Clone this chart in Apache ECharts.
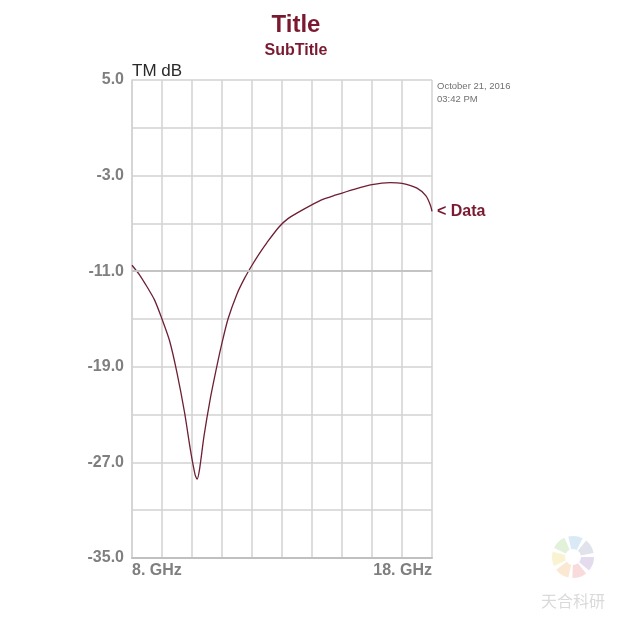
<!DOCTYPE html>
<html><head><meta charset="utf-8">
<script src="https://cdn.jsdelivr.net/npm/echarts@6/dist/echarts.min.js"></script>
<style>html,body{margin:0;padding:0;background:#fff}#c{width:618px;height:618px}</style>
</head><body><div id="c"></div>
<script>
const freqGHz = [8.0, 8.25, 8.5, 8.75, 9.0, 9.25, 9.5, 9.75, 9.95, 10.1, 10.17, 10.25, 10.4, 10.6, 10.85, 11.0, 11.2, 11.5, 11.75, 12.0, 12.25, 12.5, 12.9, 13.2, 13.7, 14.3, 14.8, 15.4, 16.0, 16.6, 17.0, 17.5, 17.8, 17.95, 18.0];
const tmDb = [-10.5, -11.3, -12.3, -13.4, -15.0, -16.8, -19.5, -22.8, -26.0, -28.0, -28.4, -27.6, -24.8, -21.8, -18.7, -17.0, -15.0, -12.9, -11.6, -10.5, -9.5, -8.6, -7.3, -6.6, -5.85, -5.05, -4.62, -4.15, -3.75, -3.58, -3.65, -4.05, -4.7, -5.5, -6.0];
const yLabelValues = [5, -3, -11, -19, -27, -35];
const xLabelText = {8: '8. GHz', 18: '18. GHz'};

const chart = echarts.init(document.getElementById('c'));
const font = '"Liberation Sans", Arial, Helvetica, sans-serif';
const wmColors = ['#c9b8e0','#f4b7b7','#f8d2a8','#f3e7a6','#c6e5b5','#b3d3ec','#c2c8d8'];
const wmSectors = wmColors.map((c, i) => ({
  type: 'sector', silent: true,
  shape: {cx: 573, cy: 557, r: 21, r0: 8, startAngle: i * Math.PI * 2 / 7, endAngle: i * Math.PI * 2 / 7 + 0.7},
  style: {fill: c, opacity: 0.5}
}));
chart.setOption({
  animation: false,
  backgroundColor: '#fff',
  title: [
    {text: 'Title', left: 291, top: 8, textAlign: 'center', textStyle: {fontFamily: font, fontSize: 24, fontWeight: 'bold', color: '#7a1a30'}},
    {text: 'SubTitle', left: 291, top: 38, textAlign: 'center', textStyle: {fontFamily: font, fontSize: 16, fontWeight: 'bold', color: '#7a1a30'}}
  ],
  grid: {left: 132, top: 80, right: 186, bottom: 60, show: false},
  xAxis: {
    type: 'value', min: 8, max: 18, interval: 1,
    axisLine: {show: true, onZero: false, lineStyle: {color: '#c0c0c0', width: 2}},
    axisTick: {show: false},
    axisLabel: {
      show: true, margin: 5,
      formatter: v => xLabelText[v] || '',
      alignMinLabel: 'left', alignMaxLabel: 'right',
      fontFamily: font, fontSize: 16, fontWeight: 'bold', color: '#7f7f7f'
    },
    splitLine: {show: true, lineStyle: {color: '#d2d2d2', width: 1.5}}
  },
  yAxis: {
    type: 'value', min: -35, max: 5, interval: 4,
    name: 'TM dB', nameLocation: 'end', nameGap: 0,
    nameTextStyle: {fontFamily: font, fontSize: 17, color: '#2a2a2a', align: 'left', verticalAlign: 'bottom', padding: [0, 0, 0, 0]},
    axisLine: {show: true, onZero: false, lineStyle: {color: '#d2d2d2', width: 1.5}},
    axisTick: {show: false},
    axisLabel: {
      margin: 8,
      formatter: v => yLabelValues.includes(v) ? v.toFixed(1) : '',
      fontFamily: font, fontSize: 16, fontWeight: 'bold', color: '#7f7f7f'
    },
    splitLine: {show: true, lineStyle: {color: '#d2d2d2', width: 1.5}}
  },
  series: [{
    type: 'line', name: 'Data',
    data: freqGHz.map((f, i) => [f, tmDb[i]]),
    showSymbol: false, smooth: 0.25,
    lineStyle: {color: '#6e1f33', width: 1.3},
    markLine: {
      silent: true, symbol: 'none', label: {show: false},
      lineStyle: {color: '#c4c4c4', width: 2.2, type: 'solid'},
      data: [{yAxis: -11}]
    },
    endLabel: {show: true, formatter: '< Data', distance: 5, fontFamily: font, fontSize: 16, fontWeight: 'bold', color: '#7a1a30'}
  }],
  graphic: [
    {type: 'text', x: 437, y: 80, style: {text: 'October 21, 2016\n03:42 PM', fontFamily: font, fontSize: 9.5, lineHeight: 13, fill: '#707070'}},
    ...wmSectors,
    {type: 'text', x: 573, y: 593, style: {text: '天合科研', fontFamily: '"Noto Sans CJK SC", sans-serif', fontSize: 16, fill: '#dadada', align: 'center'}}
  ]
});
</script></body></html>
